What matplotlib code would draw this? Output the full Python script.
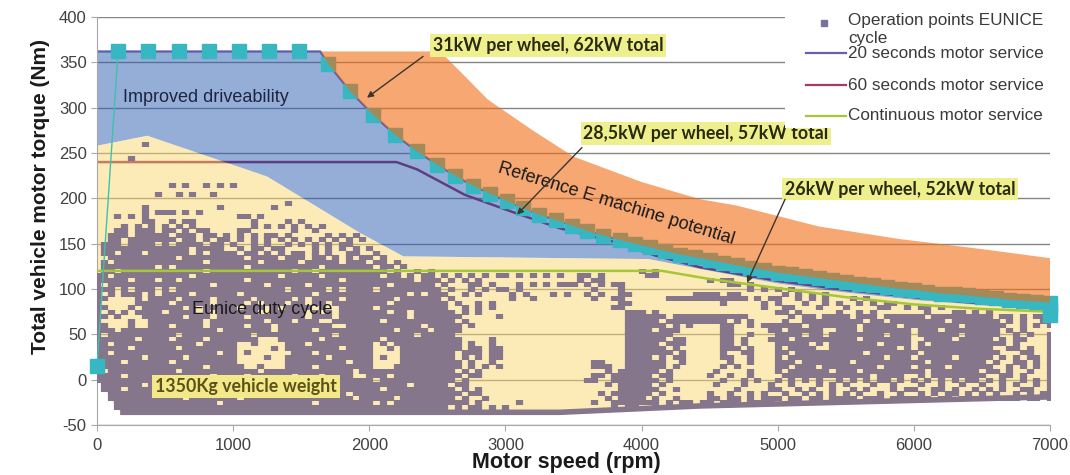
import numpy as np
import matplotlib.pyplot as plt
from matplotlib.lines import Line2D
from matplotlib.patches import Rectangle

plt.rcParams['font.family'] = ['Liberation Sans', 'DejaVu Sans']
plt.rcParams['axes.unicode_minus'] = False

rpm_ticks = [0, 1000, 2000, 3000, 4000, 5000, 6000, 7000]
torque_ticks = [-50, 0, 50, 100, 150, 200, 250, 300, 350, 400]

# 20 s peak torque of the reference machine (62 kW total)
peak_rpm = [0, 1640, 1700, 1860, 2030, 2190, 2350, 2500, 2630, 2760,
            2890, 3010, 3130, 3250, 3370, 3490, 3600, 3720, 3840, 3950,
            4060, 4170, 4280, 4390, 4500, 4600, 4700, 4800, 4900, 5000,
            5100, 5200, 5300, 5400, 5500, 5600, 5700, 5800, 5900, 6000,
            6100, 6200, 6300, 6400, 6500, 6600, 6700, 6800, 6900, 7000]
peak_torque = [362, 362, 348, 318, 292, 270, 252, 237, 225, 214,
               205, 197, 189, 182, 176, 170, 164, 159, 154, 150,
               146, 142, 138, 135, 132, 129, 126, 123, 121, 118,
               116, 114, 112, 110, 108, 106, 104, 102, 100, 99,
               97, 95, 94, 93, 91, 90, 88, 87, 86, 85]

# operation points along the reference curve (start and end extras)
ref_start_rpm = [0, 155, 375, 600, 820, 1040, 1265, 1485]
ref_start_torque = [15, 362, 362, 362, 362, 362, 362, 362]
ref_end_rpm = [7000, 7000]
ref_end_torque = [78, 71]

# 60 s and continuous ratings
s60_rpm = [0, 2200, 2350, 2500, 2700, 3070, 3400, 3800, 4100, 4430, 5000, 5500, 6000, 6500, 7000]
s60_torque = [240, 240, 232, 220, 204, 184, 167, 152, 137, 124, 109, 99, 91, 84, 78]
cont_rpm = [0, 4150, 4500, 5000, 5500, 6000, 6500, 7000]
cont_torque = [120, 120, 111, 101, 91, 83, 78, 75]

# upper edge of the orange potential band
boost_rpm = [1600, 2520, 2700, 2870, 3200, 3500, 4000, 4430, 4700, 5300, 5900, 6500, 7000]
boost_torque = [362, 362, 335, 309, 275, 246, 218, 199, 192, 169, 155, 144, 134]

# duty cycle envelope
duty_top_rpm = [0, 370, 1250, 1930, 2250, 4050, 4430, 5000, 5500, 6000, 6500, 7000]
duty_top_torque = [258, 269, 224, 162, 136, 133, 122, 106, 96, 88, 82, 78]
duty_bottom_rpm = [7000, 4430, 3400, 170, 0]
duty_bottom_torque = [-19, -29, -36, -36, 3]

# EUNICE operation points: one row per 5 Nm from 265 Nm down,
# one character per 50 rpm from 0 rpm ('#' = point)
map_top_torque = 265
map_torque_step = 5
map_rpm_step = 50
duty_points_map = [
    "",
    ".......#..",
    "",
    "",
    ".....#....",
    "",
    "",
    "",
    "",
    "",
    ".......... .#.#..#.#. #.........",
    "",
    ".........# ..#.#..#..",
    "",
    ".......... .......... ........#.",
    ".......#.. ........#. ......#...",
    ".......#.# ##.#.#....",
    "...#.#.#.. .......... .##.#.....",
    ".......##. .#.##..... ...#....#. #.........",
    "....#.#.#. #.#.#..... ...#.#.#.# .#.#......",
    "...##.###. ##.#.##... .##......# ..#.......",
    "..###.#### #.###.##.# .#.#.##.#. ....#.#.#.",
    "..##.##### ##.##.#.## .#.#.#.#.# .#.#.#.#.#",
    ".###.####. #.####.##. #..#.#..#. #.#.#.##..",
    ".######### ####.####. .#.##.##.. ..#.#.#.#. #.........",
    ".##.###.## ####.#.### #.##.#.#.# #.#.#..##. .#........",
    "..######## ##.####### ##.####.## #.##.#.#.# #.#.......",
    ".#.####### ######.### ####.##### .#####.### .##.#.....",
    ".########. #.######## ##.####### ###.###### #.##.#....",
    ".##.###### ######.### #########. ##.####### ###.#..#.# .......... .......... .......... #.#.......",
    "##.####### ####.##### #######.## ###.###### ##.##.#.## .#.#.#.#.# #.#.#.#.#. .##.#..... .##.......",
    "#####.###. ##.####### ##.####### ######.### #######.## #.#.#.#... .......... .#.##..... .......... #.##......",
    "#.######## #######.## #####.#### #.######## ###.###### .#...##.#. ..#.#.#.## #.#.#.##.. .......... ...##.#...",
    "###.#.###. #.######## ########.# ####.#.### #.######## #.#..#.#.# #.#....... ...#...#.. .......... ......#.#. #.#.......",
    "#.#.###.#. ####.##### #.######## ##.####### ######.#.# ##..#.#... .#.#...#.# ..#.#..##. ........## ##.##..... .#.#.#.#..",
    "##....#.## ##.####.## ###.#####. #.####.### ####.##### #.#....... .#..#..... ...#..##.. ....###### ######.#.# #..#.#.#.. .#.#......",
    "#.....#### #.#####.## ##.#.###.# #.##.##### ###.###### ##.#..#.#. .......... .......##. .......... ..#.....#. #...#..#.# ..#.#.##.. ..........",
    "##...#.### ###.#.#### #.###.#.## ##.#..#### #.######## ##..#.#.#. .......... ......##.. .......... ........#. .##...#... #....##..# .##.#..... ..........",
    "#.#.#.#### .####.#.## ####..#### #.#.#.#### ###.##.### ###.#.#... .......... ........## #.#....... .......... ##.#.....# ..#.#..... ..#...##.# .#........ .",
    "##.#...### ###.###.## ##.####### #.###.#### ######.### ####.....# .......... ........## ####.##### ######.... ..#.##.### #.###.#### ##.####### ##.##.#.## #",
    "#....#..## ######.### #####.###. ###..##### ##.####### ###.#..... .......... ........## ###.###### ###.#.#... .#..###### ###.##.### #####.#### ###.#.#..# #",
    "##...#..## #.####.### ##.###.### #####..### ########.# ####.#.... .......... ........## ####.#.#.. ..##..#.## ####.##### ##.#####.# #######.## ####..#.#. #",
    "###.###### ########.# ######.### ##.####### ####.####. ####...... .......... ........## ##.###.... ..##.....# #.#####..# ##.####### .###.##### ###.#.#... .",
    "#.######## ##.####### ###.###### #####.#### #######.## ###....... .......... ........## #####..... ..##..#... ####.##.## ######.### .######.## ###..#.#.. #",
    "######.### #.####.### ####...### ###.###### ##.####### ####....#. .......... ........## ####.##... ..##.#...# ##.####### ##.####### ..####.### ##.#.##... #",
    "##.####### #####.#### #..#....## #.######## #.#.###### ####.#..#. .......... ........## ###.###... ..##.#.... #####.#.## #####.#### .#.####### ####.#.... #",
    "#####.#### ##.####### #.....#.## ######.### #..#.##### ####.##.## .......... ........## ####.#.... ..###.#... #.####..## ########.# .######### ##..##.#.. #",
    "##.####### ########.# #.#......# ##.####### #....##### ###.###.## .......... ........## #####.#... ..#..##... ##.####### ###.###### #.######## ###...##.. #",
    "#######.## ###.###### #....#..## ####.##### #.#..##### ###.#.#.## .......... ........## ##.#.##... ..##..#... #.######## ######.### .#####.### ##.#.#.##. #",
    "####.##### #.######## #.......## #######.## #....##### ####.#..#. .......... ...##...## ####..#... ...#..#... ###.###### #.######## ##.####### #.#..##.#. #",
    "########## ######.### ##..#...## ##.####### #...###### ####.#.#.# .......... ...###..## ####.#.... ..#.#..... ##.###.### #####.#### .####.#### ##..#.#.#. #",
    "#.######## ##.####### ####.##### ########.# ########## ###.#.#... .......... .....#.### ###.#..... .#....#... #.######.# ##.####### ##.####### .##.#..#.. #",
    "####.##### #######.## ##.######. ###.####.. ###.###### ####.##... .......... ...##.#### ##.##..... #..#..#... .######### ####.####. .#.####### #..##.#... #",
    "########## #.##.##### ######.### #.######## #.######## ###.#..... .......... ..##..#### ###.#..... ..#..#.#.. #.#.#.#..# .#.#.##.#. #.#.#.#.## .#.#..#.#. #",
    ".######.## #####.#### ##.####### ####.##### ######.### ##.##..... .......... .....#.### ##.#...... .#...#...# ..#...#.#. #...#..#.. .#..#..#.. #..#.#..#. #",
    ".###.##### ##.####### ########.# ##.####### ##.####### ###.#.#... .......... .......### ###..#.... ....#....# #..#.#..#. .#.#...#.# #..##.#..# .#.#..##.. #",
    "..######## #######.## ####.##### #######.## ########## ####.##... .......... ....#.#### ##.#...... #..#..#.#. .#..#.#.#. #.#..#..#. .#.#.##.#. #.#..#.#.# #",
    "..######## ###.###### #.######## ########.# ####.##### ###.#..#.. .......... .....#.### #.#..#.... ##.##.#.## #.##.##.## ##.###.### ###.##.### ##.###.##. #",
    "...####### ########.# ########## ##.####### #.#.###### #####.#... ..#....... ...#..#### ###.#.##.# #.###.####",
    "...####### ########## ########## ########## ########## ##.#.##.#. #......... ......#.## ..#.......",
    "",
]

pt_rpm, pt_torque = [], []
for i, row in enumerate(duty_points_map):
    for j, ch in enumerate(row.replace(' ', '')):
        if ch == '#':
            pt_rpm.append(j * map_rpm_step)
            pt_torque.append(map_top_torque - i * map_torque_step)

BLUE = '#2D5FB3'
YELLOW = '#FBD971'
ORANGE = '#F06C14'
CYAN = '#36B7C2'
POINTS = '#85768C'
C20 = '#6A60A8'
C60 = '#8E1F50'
CCONT = '#A6C63A'

fig = plt.figure(figsize=(10.7, 4.75), dpi=100)
ax = fig.add_axes([97 / 1070, 50 / 475, 953 / 1070, 408 / 475])
ax.set_xlim(0, 7000)
ax.set_ylim(-50, 400)
ax.set_xticks(rpm_ticks)
ax.set_yticks(torque_ticks)
ax.set_axisbelow(True)
ax.yaxis.grid(True, color='#858585', lw=1.0)
for s in ['top', 'right']:
    ax.spines[s].set_visible(False)
for s in ['left', 'bottom']:
    ax.spines[s].set_color('#A8A8A8')
ax.tick_params(color='#A8A8A8', labelcolor='#404040', labelsize=12, length=4)
ax.tick_params(axis='x', pad=5)

# rating lines sit under the translucent regions
ax.plot(s60_rpm, s60_torque, color=C60, lw=1.8, zorder=1)
ax.plot(peak_rpm, peak_torque, color=C20, lw=1.6, zorder=1)

# improved driveability region (between duty envelope and peak curve)
blue_x = list(peak_rpm) + duty_top_rpm[::-1]
blue_y = list(peak_torque) + duty_top_torque[::-1]
ax.fill(blue_x, blue_y, color=BLUE, alpha=0.5, lw=0, zorder=2)

# duty cycle envelope
duty_x = duty_top_rpm + duty_bottom_rpm
duty_y = duty_top_torque + duty_bottom_torque
ax.fill(duty_x, duty_y, color=YELLOW, alpha=0.5, lw=0, zorder=2)

# wide point marker (about 7.2 x 5 px) so neighbouring points join up
point_marker = [(-0.72, -0.5), (0.72, -0.5), (0.72, 0.5), (-0.72, 0.5), (-0.72, -0.5)]
pts = ax.scatter(pt_rpm, pt_torque, marker=point_marker, s=27, color=POINTS, lw=0, zorder=3)
pts.set_snap(False)
ax.plot(duty_bottom_rpm[:4], duty_bottom_torque[:4], color=POINTS, lw=4, zorder=3,
        solid_capstyle='butt')

ax.plot(cont_rpm, cont_torque, color=CCONT, lw=1.8, zorder=3.5)

ref_rpm = ref_start_rpm + peak_rpm[2:] + ref_end_rpm
ref_torque = ref_start_torque + peak_torque[2:] + ref_end_torque
ax.plot(ref_rpm[:2], ref_torque[:2], color='#3FC0B0', lw=1, zorder=4)
ax.plot(ref_rpm, ref_torque, linestyle='none', marker='s', markersize=10,
        color=CYAN, zorder=4, clip_on=False)

# reference machine potential band
pk = [(r, t) for r, t in zip(peak_rpm, peak_torque) if r >= 1640]
orange_x = boost_rpm + [r for r, t in pk][::-1]
orange_y = boost_torque + [t for r, t in pk][::-1]
ax.fill(orange_x, orange_y, color=ORANGE, alpha=0.6, lw=0, zorder=5)

ax.text(191, 311, 'Improved driveability', fontsize=13, color='#1E2440',
        va='center', ha='left', zorder=6)
ax.text(698, 77, 'Eunice duty cycle', fontsize=13, color='#1A1A1A',
        va='center', ha='left', zorder=6)
ax.text(3812, 194, 'Reference E machine potential', fontsize=13, color='#1A1A1A',
        rotation=-17, rotation_mode='anchor', ha='center', va='center', zorder=6)

box = dict(boxstyle='square,pad=0.15', fc='#EEF08E', ec='none')
arrow = dict(arrowstyle='-|>', color='#3B3530', lw=1.0, mutation_scale=9,
             shrinkA=0, shrinkB=0)
labels = [
    ('31kW per wheel, 62kW total', (3313, 368.5), (2395, 356.5), (1983, 311)),
    ('28,5kW per wheel, 57kW total', (4473, 271.5), (3562, 256), (3085, 182)),
    ('26kW per wheel, 52kW total', (5898, 210), (5054, 199), (4775, 107)),
]
for txt, pos, start, tip in labels:
    ax.text(*pos, txt, fontsize=12.8, fontweight='bold', family='Lato', color='#2A2A12',
            ha='center', va='center', bbox=box, zorder=7)
    ax.annotate('', xy=tip, xytext=start, arrowprops=arrow, zorder=7)
ax.text(1095, -7.7, '1350Kg vehicle weight', fontsize=12.8, fontweight='bold', family='Lato',
        color='#5A5218', ha='center', va='center', zorder=7,
        bbox=dict(boxstyle='square,pad=0.15', fc='#F3E98A', ec='none'))

ax.set_xlabel('Motor speed (rpm)', fontsize=15.5, fontweight='bold', color='#1A1A1A')
ax.xaxis.set_label_coords(0.492, -0.066)
ax.set_ylabel('Total vehicle motor torque (Nm)', fontsize=15, fontweight='bold', color='#1A1A1A')
ax.yaxis.set_label_coords(-0.049, 0.559)


def fx(px):
    return px / 1070


def fy(py):
    return 1 - py / 475


# legend block at the top right
fig.add_artist(Rectangle((fx(785), fy(128)), fx(1070) - fx(785), fy(0) - fy(128),
                         transform=fig.transFigure, fc='white', ec='none', zorder=10))
fig.add_artist(Line2D([fx(824)], [fy(23)], marker='s', markersize=4, color='#7872A0',
                      linestyle='none', transform=fig.transFigure, zorder=11))
leg_txt = dict(fontsize=12.3, color='#3A3A3A', va='center', ha='left', zorder=11)
fig.text(fx(848), fy(21), 'Operation points EUNICE', **leg_txt)
fig.text(fx(848), fy(39), 'cycle', **leg_txt)
for py, col, name in [(53, C20, '20 seconds motor service'),
                      (85, '#A8386A', '60 seconds motor service'),
                      (116, CCONT, 'Continuous motor service')]:
    fig.add_artist(Line2D([fx(806), fx(846)], [fy(py), fy(py)], color=col, lw=1.6,
                          transform=fig.transFigure, zorder=11))
    fig.text(fx(848), fy(py), name, **leg_txt)

fig.savefig('out.png', dpi=100)
